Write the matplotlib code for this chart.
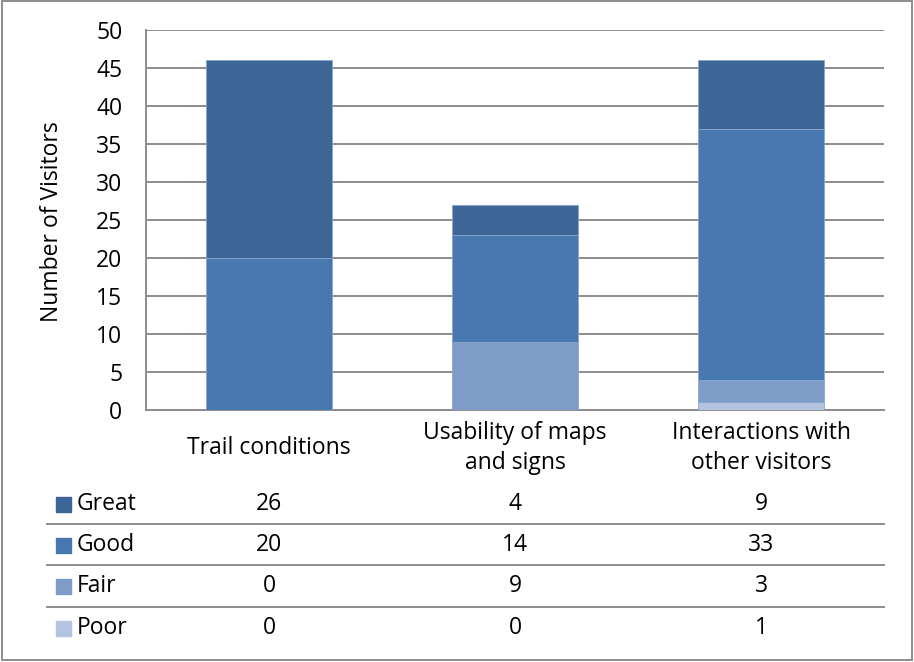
import numpy as np
import matplotlib.pyplot as plt
from matplotlib.lines import Line2D
from matplotlib.patches import Rectangle

plt.rcParams['font.family'] = ['Open Sans', 'DejaVu Sans']

categories = ['Trail conditions', 'Usability of maps\nand signs', 'Interactions with\nother visitors']
ratings = ['Great', 'Good', 'Fair', 'Poor']
great = [26, 4, 9]
good = [20, 14, 33]
fair = [0, 9, 3]
poor = [0, 0, 1]
colors = {'Great': '#3d6596', 'Good': '#4878b0', 'Fair': '#7f9cc8', 'Poor': '#b4c4e0'}

W, H = 914, 662
FS = 16.5
fig = plt.figure(figsize=(W / 100, H / 100), dpi=100)

def fx(px):
    return px / W

def fy(py):
    return 1 - py / H

# plot area in pixel coords
left, right, top, bottom = 146, 884, 30, 410
ax = fig.add_axes([fx(left), fy(bottom), fx(right - left), (bottom - top) / H])

x = np.arange(len(categories))
series = {'Poor': poor, 'Fair': fair, 'Good': good, 'Great': great}
base = np.zeros(len(categories))
for name in ['Poor', 'Fair', 'Good', 'Great']:
    vals = np.array(series[name])
    ax.bar(x, vals, width=0.512, bottom=base, color=colors[name],
           edgecolor='#8aa6cc', linewidth=0.6, zorder=3)
    base += vals

ax.set_xlim(-0.5, 2.5)
ax.set_ylim(0, 50)
ax.set_yticks(range(0, 51, 5))
ax.yaxis.grid(True, color='#8c8c8c', linewidth=1.4, zorder=0)
ax.set_axisbelow(True)
ax.tick_params(axis='y', length=0, pad=17, labelsize=FS)
ax.set_xticks([])
for s in ['top', 'right']:
    ax.spines[s].set_visible(False)
for s in ['left', 'bottom']:
    ax.spines[s].set_color('#8c8c8c')
    ax.spines[s].set_linewidth(1.4)
fig.text(fx(52), fy(222), 'Number of Visitors', rotation=90,
         ha='center', va='center', fontsize=FS)

# category labels
trans = ax.get_xaxis_transform()
for i, cat in enumerate(categories):
    ax.text(x[i], (bottom - 448) / (bottom - top), cat, transform=trans,
            ha='center', va='center', multialignment='center',
            fontsize=FS, linespacing=1.32)

# data table below the chart
row_y = [504, 545, 586, 628]
table_vals = {'Great': great, 'Good': good, 'Fair': fair, 'Poor': poor}
for r, name in enumerate(ratings):
    yy = fy(row_y[r])
    fig.patches.append(Rectangle((fx(56), yy - 7.5 / H), 15 / W, 15 / H,
                                 transform=fig.transFigure, color=colors[name]))
    fig.text(fx(77), yy, name, ha='left', va='center', fontsize=FS)
    for i, v in enumerate(table_vals[name]):
        ax.text(x[i], (bottom - row_y[r]) / (bottom - top), str(v), transform=trans,
                ha='center', va='center', fontsize=FS)

for ly in [524, 565, 607]:
    fig.add_artist(Line2D([fx(47), fx(right)], [fy(ly), fy(ly)],
                          color='#8c8c8c', linewidth=1.4))

# outer border
fig.patches.append(Rectangle((fx(2), fy(660)), fx(910), 659 / H, transform=fig.transFigure,
                             fill=False, edgecolor='#8c8c8c', linewidth=1.4))

fig.savefig('out.png', dpi=100)
